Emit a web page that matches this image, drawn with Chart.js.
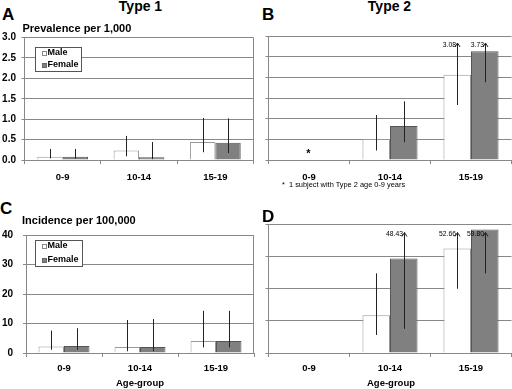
<!DOCTYPE html>
<html>
<head>
<meta charset="utf-8">
<script src="https://cdn.jsdelivr.net/npm/chart.js@4/dist/chart.umd.min.js"></script>
<style>
  html, body { margin:0; padding:0; background:#fff; }
  body { width:512px; height:389px; position:relative; overflow:hidden; font-family:"Liberation Sans", Arial, sans-serif; color:#000; }
  .abs { position:absolute; white-space:nowrap; }
  .b { font-weight:bold; }
  .c { transform:translateX(-50%); }
  .box { position:absolute; border:1px solid #555; background:#fff; box-sizing:border-box; }
  .sq { position:absolute; width:5px; height:5px; box-sizing:border-box; border:1px solid #666; }
  canvas { position:absolute; }
</style>
</head>
<body>
<canvas id="cA" width="256" height="164" style="left:0;top:26px;width:256px;height:164px"></canvas>
<canvas id="cB" width="256" height="164" style="left:256px;top:26px;width:256px;height:164px"></canvas>
<canvas id="cC" width="256" height="160" style="left:0;top:219px;width:256px;height:160px"></canvas>
<canvas id="cD" width="256" height="160" style="left:256px;top:219px;width:256px;height:160px"></canvas>

<div class="abs b" style="left:2px;top:6px;font-size:17px;line-height:17px">A</div>
<div class="abs b" style="left:262px;top:6px;font-size:17px;line-height:17px">B</div>
<div class="abs b" style="left:0px;top:200px;font-size:17px;line-height:17px">C</div>
<div class="abs b" style="left:262px;top:208px;font-size:17px;line-height:17px">D</div>

<div class="abs b c" style="left:140.5px;top:-1px;font-size:14px;line-height:14px">Type 1</div>
<div class="abs b c" style="left:389.5px;top:-1px;font-size:14px;line-height:14px">Type 2</div>

<div class="abs b" style="left:22.5px;top:23px;font-size:11px;line-height:11px">Prevalence per 1,000</div>
<div class="abs b" style="left:22px;top:215px;font-size:11px;line-height:11px">Incidence per 100,000</div>

<div class="abs" style="left:282px;top:181px;font-size:7.4px;line-height:7.4px">*&nbsp;&nbsp;1 subject with Type 2 age 0-9 years</div>
<div class="abs b c" style="left:308.5px;top:148px;font-size:11px;line-height:11px">*</div>

<div class="abs b c" style="left:140px;top:378px;font-size:9.5px;line-height:9.5px">Age-group</div>
<div class="abs b c" style="left:391px;top:378px;font-size:9.5px;line-height:9.5px">Age-group</div>

<!-- legend A -->
<div class="box" style="left:35px;top:46.5px;width:47px;height:25px"></div>
<div class="sq" style="left:41.5px;top:51px;background:#fff;border-color:#888"></div>
<div class="abs b" style="left:47.5px;top:48.2px;font-size:9px;line-height:9px">Male</div>
<div class="sq" style="left:41.5px;top:62.5px;background:#808080"></div>
<div class="abs b" style="left:47.5px;top:59.8px;font-size:9px;line-height:9px">Female</div>
<!-- legend C -->
<div class="box" style="left:35px;top:239.5px;width:48px;height:27px"></div>
<div class="sq" style="left:41.5px;top:244px;background:#fff;border-color:#888"></div>
<div class="abs b" style="left:47.5px;top:241.4px;font-size:9px;line-height:9px">Male</div>
<div class="sq" style="left:41.5px;top:257.5px;background:#808080"></div>
<div class="abs b" style="left:47.5px;top:255.1px;font-size:9px;line-height:9px">Female</div>

<script>
// ---------------- data ----------------
const categories = ['0-9', '10-14', '15-19'];

// Panel A: Type 1 prevalence per 1,000
const prevT1Male     = [0.08, 0.23, 0.44];
const prevT1MaleLo   = [0.04, 0.09, 0.19];
const prevT1MaleHi   = [0.27, 0.59, 1.03];
const prevT1Female   = [0.08, 0.07, 0.42];
const prevT1FemaleLo = [0.03, 0.02, 0.17];
const prevT1FemaleHi = [0.27, 0.44, 1.02];

// Panel B: Type 2 prevalence per 1,000
const prevT2Male     = [null, 0.51, 2.06];
const prevT2MaleLo   = [null, 0.23, 1.33];
const prevT2MaleHi   = [null, 1.09, 3.08];
const prevT2Female   = [null, 0.82, 2.63];
const prevT2FemaleLo = [null, 0.43, 1.88];
const prevT2FemaleHi = [null, 1.42, 3.73];

// Panel C: Type 1 incidence per 100,000
const incT1Male     = [2.2, 2.0, 4.1];
const incT1MaleLo   = [1.1, 0.6, 1.9];
const incT1MaleHi   = [7.6, 11.2, 14.3];
const incT1Female   = [2.4, 2.0, 4.1];
const incT1FemaleLo = [1.1, 0.6, 1.9];
const incT1FemaleHi = [8.4, 11.5, 14.3];

// Panel D: Type 2 incidence per 100,000
const incT2Male     = [null, 11.7, 32.4];
const incT2MaleLo   = [null, 5.6, 19.9];
const incT2MaleHi   = [null, 24.7, 52.66];
const incT2Female   = [null, 29.3, 38.3];
const incT2FemaleLo = [null, 7.5, 24.7];
const incT2FemaleHi = [null, 48.43, 59.80];

// Axis tick settings
const prevMax = 3.0, prevStep = 0.5;
const incMax = 40, incStep = 10;

// ---------------- plugins ----------------
const errBars = {
  id: 'errBars',
  afterDatasetsDraw(chart, args, opts) {
    const { ctx, chartArea, scales } = chart;
    const y = scales.y;
    const yMax = y.max;
    ctx.save();
    chart.data.datasets.forEach((ds, i) => {
      const meta = chart.getDatasetMeta(i);
      (ds.errLo || []).forEach((lo, j) => {
        const hi = ds.errHi[j];
        if (lo == null || hi == null) return;
        const bar = meta.data[j];
        const x = Math.round(bar.x) + 0.5;
        const yLo = y.getPixelForValue(lo);
        ctx.strokeStyle = '#222';
        ctx.lineWidth = 1;
        if (hi > yMax) {
          const tip = chartArea.top + (opts.tipOffset || 7);
          ctx.beginPath();
          ctx.moveTo(x, yLo);
          ctx.lineTo(x, tip);
          ctx.moveTo(x - 2.5, tip + 4);
          ctx.lineTo(x, tip);
          ctx.lineTo(x + 2.5, tip + 4);
          ctx.stroke();
          ctx.fillStyle = '#000';
          ctx.font = '6.8px "Liberation Sans", Arial, sans-serif';
          ctx.textAlign = 'right';
          ctx.textBaseline = 'alphabetic';
          ctx.fillText(hi.toFixed(2), x - 1.5, tip + 3.5);
        } else {
          const yHi = y.getPixelForValue(hi);
          ctx.beginPath();
          ctx.moveTo(x, yLo);
          ctx.lineTo(x, yHi);
          ctx.stroke();
        }
      });
    });
    if (opts.rightBorder) {
      const xr = Math.round(chartArea.right) - 0.5;
      ctx.strokeStyle = '#888';
      ctx.beginPath();
      ctx.moveTo(xr, chartArea.top);
      ctx.lineTo(xr, chartArea.bottom);
      ctx.stroke();
    }
    ctx.restore();
  }
};

function makeChart(id, o) {
  const ds = [
    { label: 'Male', data: o.male, errLo: o.maleLo, errHi: o.maleHi,
      backgroundColor: '#ffffff', borderColor: '#999999', borderWidth: 1 },
    { label: 'Female', data: o.female, errLo: o.femaleLo, errHi: o.femaleHi,
      backgroundColor: '#808080', borderColor: '#555555', borderWidth: 1 }
  ];
  return new Chart(document.getElementById(id), {
    type: 'bar',
    data: { labels: categories, datasets: ds },
    plugins: [errBars],
    options: {
      responsive: false,
      animation: false,
      events: [],
      layout: { padding: { top: o.padTop, right: o.padRight, left: 0, bottom: 0 } },
      plugins: {
        legend: { display: false },
        tooltip: { enabled: false },
        errBars: { tipOffset: o.tipOffset, rightBorder: o.rightBorder }
      },
      datasets: { bar: { categoryPercentage: o.catPct, barPercentage: 1.0 } },
      scales: {
        x: {
          grid: { display: true, drawOnChartArea: false, drawTicks: true, tickLength: 4, color: '#888', offset: true },
          border: { display: true, color: '#888', width: 1 },
          ticks: { color: '#000', padding: o.xPad, font: { family: '"Liberation Sans", Arial, sans-serif', size: 9.5, weight: 'bold' } },
          afterFit: s => { s.height = o.xHeight; }
        },
        y: {
          min: 0, max: o.max,
          grid: { color: '#888', lineWidth: 1, drawTicks: true, tickLength: 3 },
          border: { display: true, color: '#888', width: 1 },
          ticks: {
            display: o.showY, stepSize: o.step, padding: o.yPad, color: '#000',
            font: { family: '"Liberation Sans", Arial, sans-serif', size: 10, weight: 'bold' },
            callback: v => o.fmt(v)
          },
          afterFit: s => { s.width = o.yWidth; }
        }
      }
    }
  });
}

const fmtPrev = v => v.toFixed(1);
const fmtInc = v => String(v);

makeChart('cA', { male: prevT1Male, maleLo: prevT1MaleLo, maleHi: prevT1MaleHi,
  female: prevT1Female, femaleLo: prevT1FemaleLo, femaleHi: prevT1FemaleHi,
  max: prevMax, step: prevStep, fmt: fmtPrev, showY: true, yWidth: 24.5, yPad: 5.5,
  padTop: 10, padRight: 2.5, xHeight: 30, xPad: 7.3, catPct: 0.665, tipOffset: 7, rightBorder: true });

makeChart('cB', { male: prevT2Male, maleLo: prevT2MaleLo, maleHi: prevT2MaleHi,
  female: prevT2Female, femaleLo: prevT2FemaleLo, femaleHi: prevT2FemaleHi,
  max: prevMax, step: prevStep, fmt: fmtPrev, showY: false, yWidth: 12.5, yPad: 0,
  padTop: 10, padRight: 0.5, xHeight: 30, xPad: 7.3, catPct: 0.68, tipOffset: 7, rightBorder: false });

makeChart('cC', { male: incT1Male, maleLo: incT1MaleLo, maleHi: incT1MaleHi,
  female: incT1Female, femaleLo: incT1FemaleLo, femaleHi: incT1FemaleHi,
  max: incMax, step: incStep, fmt: fmtInc, showY: true, yWidth: 26, yPad: 10,
  padTop: 5, padRight: 2, xHeight: 26, xPad: 5.8, catPct: 0.67, tipOffset: 8.5, rightBorder: true });

makeChart('cD', { male: incT2Male, maleLo: incT2MaleLo, maleHi: incT2MaleHi,
  female: incT2Female, femaleLo: incT2FemaleLo, femaleHi: incT2FemaleHi,
  max: incMax, step: incStep, fmt: fmtInc, showY: false, yWidth: 12.5, yPad: 0,
  padTop: 5, padRight: 0.5, xHeight: 26, xPad: 5.8, catPct: 0.68, tipOffset: 8.5, rightBorder: false });
</script>
</body>
</html>
